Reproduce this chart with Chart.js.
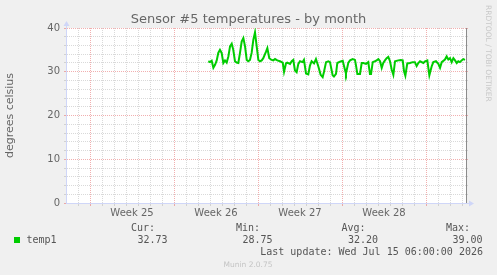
<!DOCTYPE html>
<html><head><meta charset="utf-8">
<script src="https://cdn.jsdelivr.net/npm/chart.js@4"></script>
<style>
html,body{margin:0;padding:0;background:#f0f0f0;}
#wrap{position:relative;width:497px;height:275px;overflow:hidden;}
canvas{position:absolute;left:0;top:0;}
svg{position:absolute;left:0;top:0;pointer-events:none;}
</style></head><body>
<div id="wrap"><canvas id="c" width="497" height="275"></canvas>
<svg id="ov" width="497" height="275" xmlns="http://www.w3.org/2000/svg"></svg></div>
<script>
const chartTitle = 'Sensor #5 temperatures - by month';
const yAxisTitle = 'degrees celsius';
const seriesName = 'temp1';
const weekLabels = ['Week 25', 'Week 26', 'Week 27', 'Week 28'];
const weekStartDays = [0, 7, 14, 21, 28]; // days since Mon Jun 15 2026
const yTickLabels = [0, 10, 20, 30, 40];
const statNames = ['Cur:', 'Min:', 'Avg:', 'Max:'];
const statValues = ['32.73', '28.75', '32.20', '39.00'];
const lastUpdate = 'Last update: Wed Jul 15 06:00:00 2026';
const footerText = 'Munin 2.0.75';
const watermark = 'RRDTOOL / TOBI OETIKER';

// time in days since Mon Jun 15 2026 00:00
const timeDays = [
  9.86, 10.00, 10.14, 10.28, 10.42, 10.56, 10.69, 10.83, 10.97, 11.11,
  11.25, 11.39, 11.53, 11.67, 11.81, 11.94, 12.08, 12.22, 12.36, 12.50,
  12.64, 12.78, 12.92, 13.06, 13.19, 13.33, 13.47, 13.61, 13.75, 13.89,
  14.03, 14.17, 14.31, 14.44, 14.67, 14.78, 14.94, 15.14, 15.28, 15.42,
  15.61, 15.83, 16.06, 16.17, 16.33, 16.44, 16.67, 16.81, 16.94, 17.08,
  17.22, 17.36, 17.50, 17.72, 17.83, 18.00, 18.19, 18.33, 18.47, 18.67,
  18.83, 19.03, 19.22, 19.39, 19.50, 19.67, 19.86, 20.00, 20.22, 20.33,
  20.50, 20.61, 20.83, 21.06, 21.25, 21.33, 21.53, 21.67, 21.89, 22.08,
  22.17, 22.28, 22.50, 22.64, 22.78, 23.00, 23.19, 23.33, 23.42, 23.56,
  23.75, 23.89, 24.03, 24.17, 24.31, 24.44, 24.58, 24.72, 24.86, 25.00,
  25.14, 25.28, 25.42, 25.69, 25.89, 26.06, 26.17, 26.28, 26.44, 26.67,
  26.89, 27.08, 27.22, 27.36, 27.50, 27.78, 27.92, 28.11, 28.28, 28.47,
  28.61, 28.83, 29.03, 29.17, 29.31, 29.58, 29.72, 29.86, 30.00, 30.14,
  30.28, 30.42, 30.56, 30.69, 30.83, 30.97, 31.11, 31.25
];
const temps = [
  32.4, 32.2, 32.5, 30.9, 31.6, 32.6, 34.3, 35.0, 34.3, 32.0,
  32.6, 32.1, 33.5, 35.8, 36.4, 35.0, 32.4, 32.1, 32.0, 34.3,
  36.9, 37.7, 35.8, 32.7, 32.4, 32.7, 34.3, 37.3, 39.0, 35.8,
  32.7, 32.4, 32.6, 33.1, 34.6, 35.4, 33.1, 32.7, 32.6, 32.9,
  32.6, 32.4, 32.1, 30.0, 31.9, 32.1, 31.8, 32.4, 32.7, 30.3,
  29.9, 31.8, 32.4, 32.2, 32.7, 29.6, 29.4, 31.4, 32.4, 31.9,
  32.9, 31.2, 29.3, 28.75, 30.0, 32.2, 32.4, 32.2, 29.2, 28.9,
  29.5, 32.0, 32.3, 32.5, 30.4, 29.6, 32.1, 32.6, 32.9, 32.7,
  31.4, 29.5, 29.5, 32.0, 32.0, 31.8, 32.2, 29.5, 29.5, 32.2,
  32.4, 32.6, 32.9, 32.4, 30.9, 32.0, 32.6, 33.1, 33.4, 32.4,
  30.5, 29.3, 32.4, 32.6, 32.7, 32.6, 30.1, 29.1, 31.9, 32.0,
  32.2, 32.2, 31.3, 32.0, 32.4, 32.0, 32.4, 32.6, 29.2, 31.2,
  32.2, 32.4, 31.8, 30.9, 32.2, 32.8, 33.5, 32.8, 33.1, 32.2,
  33.1, 32.6, 32.0, 32.4, 32.2, 32.6, 32.9, 32.73
];

const lineColor = '#00cc00';
const fontColor = '#666666';
const majorGrid = 'rgba(230,110,110,0.55)';
const minorGrid = 'rgba(170,170,170,0.45)';
const axisColor = '#cfd6f8';
const xMin = -2, xMax = 31.3333;

const yGridColor = (ctx) => (ctx.tick && ctx.tick.value % 10 === 0) ? majorGrid : minorGrid;
const xGridColor = (ctx) => {
  const v = ctx.tick ? ctx.tick.value : NaN;
  if (!Number.isInteger(v)) return 'rgba(0,0,0,0)';
  return weekStartDays.includes(v) ? majorGrid : minorGrid;
};

const plotBg = {
  id: 'plotBg',
  beforeDraw(chart) {
    const {ctx, chartArea: a} = chart;
    ctx.save();
    ctx.fillStyle = '#ffffff';
    ctx.fillRect(a.left, a.top, a.right - a.left, a.bottom - a.top);
    ctx.restore();
  }
};
const axisDecor = {
  id: 'axisDecor',
  afterDraw(chart) {
    const {ctx, chartArea: a} = chart;
    const xL = Math.round(a.left) + 0.5, yB = Math.round(a.bottom) + 0.5;
    ctx.save();
    ctx.strokeStyle = axisColor; ctx.fillStyle = axisColor; ctx.lineWidth = 1;
    ctx.beginPath();
    ctx.moveTo(xL, a.top); ctx.lineTo(xL, a.top - 3);
    ctx.moveTo(a.right, yB); ctx.lineTo(a.right + 3, yB);
    ctx.stroke();
    ctx.beginPath();
    ctx.moveTo(xL, a.top - 7); ctx.lineTo(xL - 3, a.top - 2); ctx.lineTo(xL + 3, a.top - 2); ctx.closePath(); ctx.fill();
    ctx.beginPath();
    ctx.moveTo(a.right + 8, yB); ctx.lineTo(a.right + 3, yB - 3); ctx.lineTo(a.right + 3, yB + 3); ctx.closePath(); ctx.fill();
    ctx.restore();
  }
};

new Chart(document.getElementById('c'), {
  type: 'line',
  data: {
    datasets: [{
      label: seriesName,
      data: timeDays.map((d, i) => ({x: d, y: temps[i]})),
      borderColor: lineColor,
      backgroundColor: lineColor,
      borderWidth: 2,
      pointRadius: 0,
      tension: 0,
      fill: false
    }]
  },
  options: {
    responsive: false,
    animation: false,
    devicePixelRatio: 1,
    layout: {padding: 0},
    plugins: {
      legend: {display: false},
      tooltip: {enabled: false},
      title: {
        display: true, text: chartTitle, color: fontColor,
        font: {family: 'DejaVu Sans', size: 13, weight: 'normal', lineHeight: 1},
        padding: {top: 13, bottom: 2}
      }
    },
    scales: {
      x: {
        type: 'linear', min: xMin, max: xMax,
        afterBuildTicks: (s) => {
          const t = [];
          for (let d = -1; d <= 31; d++) t.push({value: d});
          weekLabels.forEach((_, i) => t.push({value: weekStartDays[i] + 3.5}));
          t.sort((a, b) => a.value - b.value);
          s.ticks = t;
        },
        afterFit: (s) => { s.height = 72; },
        ticks: {
          autoSkip: false, maxRotation: 0, minRotation: 0, padding: 1,
          color: fontColor, font: {family: 'DejaVu Sans', size: 10},
          callback: (v) => {
            const i = weekStartDays.indexOf(v - 3.5);
            return (i >= 0 && i < weekLabels.length) ? weekLabels[i] : '';
          }
        },
        grid: {color: xGridColor, tickColor: xGridColor, tickLength: 3, lineWidth: 1},
        border: {color: axisColor, dash: [1, 1]}
      },
      y: {
        min: 0, max: 40,
        afterFit: (s) => { s.width = 66; },
        ticks: {
          stepSize: 2, autoSkip: false, padding: 4,
          color: fontColor, font: {family: 'DejaVu Sans', size: 10},
          callback: (v) => yTickLabels.includes(v) ? String(v) : ''
        },
        grid: {color: yGridColor, tickColor: yGridColor, tickLength: 2, lineWidth: 1},
        border: {color: axisColor, dash: [1, 1]},
        title: {
          display: true, text: yAxisTitle, color: fontColor,
          font: {family: 'DejaVu Sans', size: 11}, padding: {top: 4, bottom: 0}
        }
      },
      y2: {
        position: 'right', min: 0, max: 40,
        afterFit: (s) => { s.width = 31; },
        ticks: {display: false, stepSize: 2},
        grid: {drawOnChartArea: false, color: yGridColor, tickColor: yGridColor, tickLength: 2},
        border: {color: '#8c8c8c'}
      }
    }
  },
  plugins: [plotBg, axisDecor]
});

// overlay texts (legend, footer, watermark)
const NS = 'http://www.w3.org/2000/svg';
const ov = document.getElementById('ov');
function addText(str, x, y, opts) {
  const t = document.createElementNS(NS, 'text');
  t.setAttribute('x', x); t.setAttribute('y', y);
  t.setAttribute('font-family', opts.family || 'DejaVu Sans Mono');
  t.setAttribute('font-size', opts.size || 10);
  t.setAttribute('fill', opts.color || '#555');
  if (opts.anchor) t.setAttribute('text-anchor', opts.anchor);
  if (opts.transform) t.setAttribute('transform', opts.transform);
  t.setAttribute('xml:space', 'preserve');
  t.textContent = str;
  ov.appendChild(t);
  return t;
}
const sq = document.createElementNS(NS, 'rect');
sq.setAttribute('x', 14); sq.setAttribute('y', 237); sq.setAttribute('width', 6); sq.setAttribute('height', 6);
sq.setAttribute('fill', lineColor);
ov.appendChild(sq);
addText(seriesName, 26.5, 243.3, {});
const colStarts = [131, 236, 341.5, 446];
statNames.forEach((s, i) => addText(s, colStarts[i], 230.7, {}));
statValues.forEach((s, i) => addText(s, colStarts[i] + 36.5, 243.3, {anchor: 'end'}));
addText(lastUpdate, 483, 255, {anchor: 'end'});
addText(footerText, 248, 266.5, {family: 'DejaVu Sans', size: 7.5, color: '#c4c4c4', anchor: 'middle'});
addText(watermark, 0, 0, {family: 'DejaVu Sans', size: 7.5, color: '#c8c8c8', transform: 'translate(485.5,5) rotate(90)'});
</script>
</body></html>
